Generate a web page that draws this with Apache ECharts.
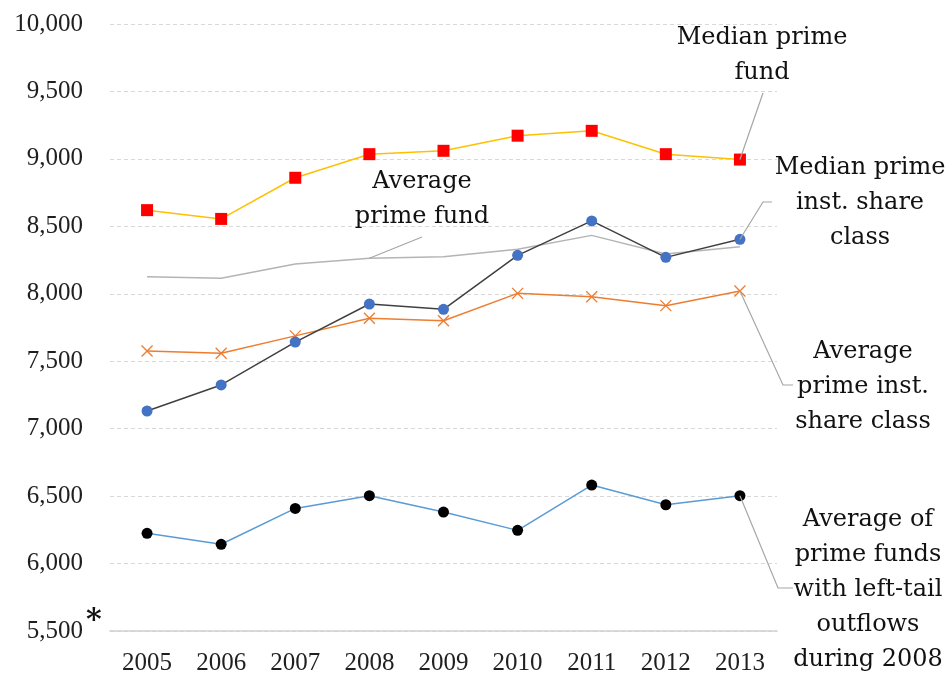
<!DOCTYPE html>
<html><head><meta charset="utf-8">
<script src="https://cdn.jsdelivr.net/npm/echarts@6/dist/echarts.min.js"></script>
<style>html,body{margin:0;padding:0;background:#fff}#c{width:951px;height:683px}</style>
</head><body><div id="c"></div>
<script>
const years = ['2005','2006','2007','2008','2009','2010','2011','2012','2013'];
const medianPrimeFund = [8620, 8555, 8860, 9035, 9060, 9172, 9208, 9035, 8995];
const averagePrimeFund = [8127, 8115, 8221, 8263, 8275, 8330, 8433, 8295, 8349];
const medianPrimeInst = [7131, 7324, 7642, 7924, 7885, 8285, 8540, 8270, 8404];
const averagePrimeInst = [7576, 7559, 7688, 7818, 7800, 8003, 7978, 7912, 8021];
const averageLeftTail = [6224, 6143, 6409, 6503, 6382, 6246, 6582, 6436, 6503];
const yTicks = {min: 5500, max: 10000, step: 500};

const chart = echarts.init(document.getElementById('c'), null, {renderer: 'canvas'});
const axisFont = {fontFamily: 'Liberation Serif', fontSize: 25, color: '#1f1f1f'};
const annFont = 'DejaVu Serif';
const xSym = 'path://M0,0L10,10M10,0L0,10';

const option = {
  animation: false,
  grid: {left: 110, right: 174, top: 24, bottom: 52},
  xAxis: {
    type: 'category', data: years, boundaryGap: true,
    axisLine: {show: true, lineStyle: {color: '#d0d0d0', width: 1.5}},
    axisTick: {show: false},
    axisLabel: Object.assign({margin: 20}, axisFont)
  },
  yAxis: {
    type: 'value', min: yTicks.min, max: yTicks.max, interval: yTicks.step,
    axisLine: {show: false}, axisTick: {show: false},
    splitLine: {show: true, lineStyle: {color: '#d9d9d9', type: [4, 3], width: 1}},
    axisLabel: Object.assign({margin: 27, formatter: v => v.toLocaleString('en-US')}, axisFont)
  },
  series: [
    {name: 'Average prime fund', type: 'line', data: averagePrimeFund, showSymbol: false, symbol: 'none',
     lineStyle: {color: '#b4b4b4', width: 1.5}, z: 1},
    {name: 'Median prime fund', type: 'line', data: medianPrimeFund, symbol: 'rect', symbolSize: 12,
     itemStyle: {color: '#ff0000'}, lineStyle: {color: '#ffc000', width: 1.5}, z: 3},
    {name: 'Median prime inst. share class', type: 'line', data: medianPrimeInst, symbol: 'circle', symbolSize: 11,
     itemStyle: {color: '#4472c4'}, lineStyle: {color: '#404040', width: 1.5}, z: 3},
    {name: 'Average prime inst. share class', type: 'line', data: averagePrimeInst, symbol: xSym, symbolSize: 11,
     itemStyle: {color: 'rgba(0,0,0,0)', borderColor: '#ed7d31', borderWidth: 1.3}, lineStyle: {color: '#ed7d31', width: 1.5}, z: 2},
    {name: 'Average of prime funds with left-tail outflows during 2008', type: 'line', data: averageLeftTail, symbol: 'circle', symbolSize: 11,
     itemStyle: {color: '#000000'}, lineStyle: {color: '#5b9bd5', width: 1.5}, z: 3}
  ]
};
chart.setOption(option);

function px(i, v) { return chart.convertToPixel({gridIndex: 0}, [i, v]); }
const n = years.length - 1;
const pMed = px(n, medianPrimeFund[n]);
const pAvgF = px(3, averagePrimeFund[3]);
const pMedI = px(n, medianPrimeInst[n]);
const pAvgI = px(n, averagePrimeInst[n]);
const pLeft = px(n, averageLeftTail[n]);
const leader = {stroke: '#a6a6a6', lineWidth: 1.2, fill: null};
function txt(x, y, s) {
  return {type: 'text', x: x, y: y, z: 10,
    style: {text: s, font: '24px "' + annFont + '"', fill: '#111111', align: 'center', verticalAlign: 'top', lineHeight: 35}};
}
chart.setOption({graphic: {elements: [
  {type: 'polyline', shape: {points: [[763, 93], [pMed[0], pMed[1]]]}, style: leader, z: 5},
  {type: 'polyline', shape: {points: [[422, 237], [pAvgF[0], pAvgF[1]]]}, style: leader, z: 5},
  {type: 'polyline', shape: {points: [[772, 202], [763, 202], [pMedI[0], pMedI[1]]]}, style: leader, z: 5},
  {type: 'polyline', shape: {points: [[pAvgI[0], pAvgI[1]], [783, 385], [793, 385]]}, style: leader, z: 5},
  {type: 'polyline', shape: {points: [[pLeft[0], pLeft[1]], [778, 588], [793, 588]]}, style: leader, z: 5},
  txt(762, 20, 'Median prime\nfund'),
  txt(422, 164, 'Average\nprime fund'),
  txt(860, 150, 'Median prime\ninst. share\nclass'),
  txt(863, 334, 'Average\nprime inst.\nshare class'),
  txt(868, 502, 'Average of\nprime funds\nwith left-tail\noutflows\nduring 2008'),
  {type: 'text', x: 86, y: 606, z: 10, style: {text: '*', font: 'bold 30px "DejaVu Serif"', fill: '#111111'}}
]}});
</script></body></html>
